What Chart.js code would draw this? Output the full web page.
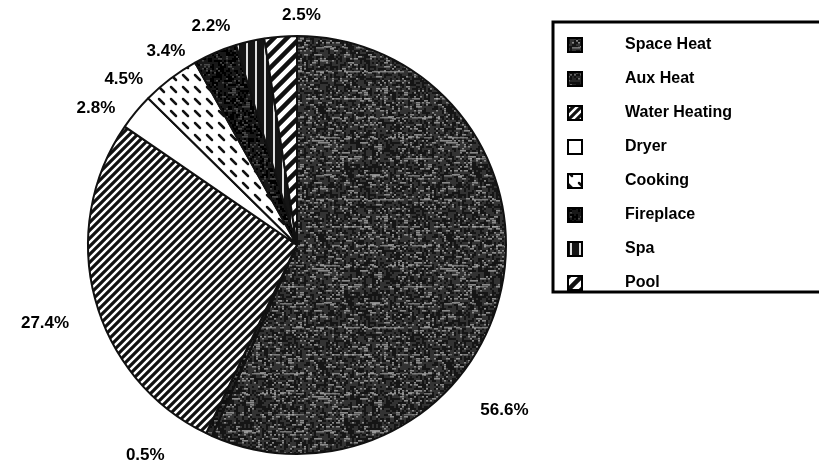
<!DOCTYPE html>
<html>
<head>
<meta charset="utf-8">
<script src="https://cdn.jsdelivr.net/npm/chart.js@4.4.1/dist/chart.umd.min.js"></script>
<style>
  html, body { margin: 0; padding: 0; background: #fff; }
  #wrap { width: 819px; height: 467px; position: relative; }
</style>
</head>
<body>
<div id="wrap"><canvas id="usePie"></canvas></div>
<script>
const categories = ["Space Heat", "Aux Heat", "Water Heating", "Dryer", "Cooking", "Fireplace", "Spa", "Pool"];
const shares = [56.6, 0.5, 27.4, 2.8, 4.5, 3.4, 2.2, 2.5];

// small repeatable tiles used as fills
function tile(w, h, draw) {
    const c = document.createElement("canvas");
    c.width = w; c.height = h;
    const g = c.getContext("2d");
    draw(g, w, h);
    return document.createElement("canvas").getContext("2d").createPattern(c, "repeat");
}

// cheap deterministic noise for the grainy fills
function grain(seed) {
    let s = seed;
    return () => { s = (s * 1103515245 + 12345) & 0x7fffffff; return s / 0x7fffffff; };
}

function grainy(base, light, dark, seed, streaks) {
    return tile(128, 128, (g, w, h) => {
        const rnd = grain(seed);
        g.fillStyle = base; g.fillRect(0, 0, w, h);
        for (let y = 0; y < h; y += 2) {
            for (let x = 0; x < w; x += 2) {
                const v = rnd();
                if (v < 0.16) { g.fillStyle = light; g.fillRect(x, y, 2 + (v < 0.05 ? 2 : 0), 1.5); }
                else if (v > 0.6) { g.fillStyle = dark; g.fillRect(x, y, 2, 2); }
            }
        }
        if (streaks) {
            // broken light scan lines
            [9, 30, 47, 71, 98, 117].forEach(y => {
                for (let x = 0; x < w; x += 4) {
                    if (rnd() < 0.55) {
                        g.fillStyle = "rgba(190,190,190,0.55)";
                        g.fillRect(x, y, 4, 1.5);
                    }
                }
            });
        }
    });
}

function hatch(size, width) {
    return tile(size, size, (g, s) => {
        g.fillStyle = "#fff"; g.fillRect(0, 0, s, s);
        g.strokeStyle = "#111"; g.lineWidth = width;
        g.beginPath();
        g.moveTo(0, s); g.lineTo(s, 0);
        g.moveTo(-s / 2, s / 2); g.lineTo(s / 2, -s / 2);
        g.moveTo(s / 2, s * 1.5); g.lineTo(s * 1.5, s / 2);
        g.stroke();
    });
}

const fills = [
    grainy("#333", "#8a8a8a", "#151515", 7, true),          // Space Heat
    grainy("#262626", "#6a6a6a", "#0e0e0e", 19, false),     // Aux Heat
    hatch(8, 3.2),                                           // Water Heating
    "#ffffff",                                               // Dryer
    tile(12, 12, (g, w, h) => {                              // Cooking
        g.fillStyle = "#fff"; g.fillRect(0, 0, w, h);
        g.strokeStyle = "#111"; g.lineWidth = 2.5; g.lineCap = "round";
        g.beginPath(); g.moveTo(3, 3); g.lineTo(8, 8); g.stroke();
    }),
    grainy("#181818", "#4a4a4a", "#000", 31, false),        // Fireplace
    tile(9, 9, (g, w, h) => {                                // Spa
        g.fillStyle = "#151515"; g.fillRect(0, 0, w, h);
        g.fillStyle = "#e0e0e0"; g.fillRect(3, 0, 2, h);
    }),
    hatch(13, 4.5)                                           // Pool
];

// percentage text placed just outside each slice
const sliceLabels = {
    id: "sliceLabels",
    afterDatasetsDraw(chart, args, opts) {
        const { ctx } = chart;
        const meta = chart.getDatasetMeta(0);
        ctx.save();
        ctx.font = opts.font;
        ctx.fillStyle = "#000";
        ctx.textAlign = "center";
        ctx.textBaseline = "middle";
        meta.data.forEach((arc, i) => {
            const p = arc.getProps(["x", "y", "startAngle", "endAngle", "outerRadius"], true);
            const a = (p.startAngle + p.endAngle) / 2 + opts.angleShift[i] * Math.PI / 180;
            const r = p.outerRadius + opts.gap[i];
            ctx.fillText(shares[i].toFixed(1) + "%", p.x + Math.cos(a) * r, p.y + Math.sin(a) * r);
        });
        ctx.restore();
    }
};

// boxed key on the right
const boxLegend = {
    id: "boxLegend",
    afterDraw(chart, args, opts) {
        const { ctx } = chart;
        ctx.save();
        ctx.strokeStyle = "#000";
        ctx.lineWidth = 3;
        ctx.strokeRect(opts.left, opts.top, opts.width, opts.height);
        ctx.font = opts.font;
        ctx.textBaseline = "middle";
        categories.forEach((name, i) => {
            const y = opts.top + opts.firstRow + i * opts.rowGap;
            ctx.fillStyle = fills[i];
            ctx.fillRect(opts.left + 15, y - 7, 14, 14);
            ctx.lineWidth = 2;
            ctx.strokeRect(opts.left + 15, y - 7, 14, 14);
            ctx.fillStyle = "#000";
            ctx.fillText(name, opts.left + 72, y);
        });
        ctx.restore();
    }
};

new Chart(document.getElementById("usePie"), {
    type: "pie",
    data: {
        labels: categories,
        datasets: [{
            data: shares,
            backgroundColor: fills,
            borderColor: "#111",
            borderWidth: 2,
            radius: 209
        }]
    },
    options: {
        responsive: true,
        maintainAspectRatio: false,
        animation: false,
        events: [],
        layout: { padding: { left: 80, right: 305, top: 30, bottom: 7 } },
        plugins: {
            legend: { display: false },
            tooltip: { enabled: false },
            sliceLabels: {
                font: "bold 17px 'Liberation Sans', Arial, sans-serif",
                angleShift: [26.5, 11, -2.5, -5.4, -8.9, -11, -8.5, 5.6],
                gap: [56, 50, 55, 34, 31, 25, 26, 21]
            },
            boxLegend: {
                left: 553, top: 22, width: 290, height: 270,
                firstRow: 23, rowGap: 34,
                font: "bold 16px 'Liberation Sans', Arial, sans-serif"
            }
        }
    },
    plugins: [sliceLabels, boxLegend]
});
</script>
</body>
</html>
